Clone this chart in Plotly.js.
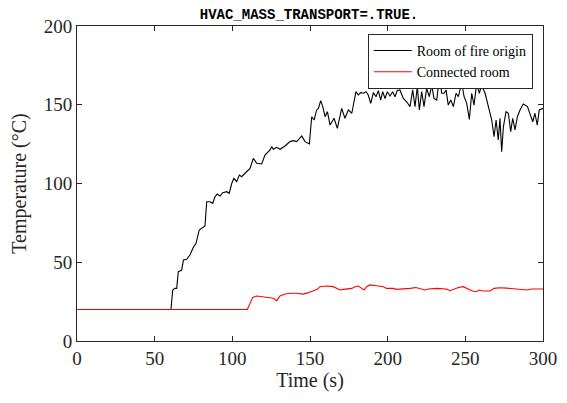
<!DOCTYPE html>
<html>
<head>
<meta charset="utf-8">
<script src="https://cdn.plot.ly/plotly-3.0.1.min.js"></script>
<style>html,body{margin:0;padding:0;background:#fff;}#chart{width:567px;height:403px;}</style>
</head>
<body>
<div id="chart"></div>
<script>
const fireTime = [0, 30, 60, 60.5, 61.6, 63, 64.2, 65.2, 67.4, 68.5, 70.6, 72.7, 74.9, 76.6, 78.7, 81.3, 82.4, 83.5, 85.6, 87.4, 88.8, 90.3, 92.1, 93.8, 96.4, 98, 99.6, 101, 102.8, 104.5, 106, 108.2, 110.3,
  111.4, 113.5, 115.7, 118.9, 121, 124.3, 125.3, 126.4, 128.6, 130.7, 133.9, 137.1, 139.3, 141.4, 144.7, 146.8, 149.6, 151.1, 152.6, 154.3, 155.4, 156.9, 158.2, 159.7, 161.2, 162.9, 165.5, 167.6, 170.4, 172.5, 174.7,
  176.9, 178.3, 179.6, 181.1, 182.6, 184.3, 186.1, 187.5, 189.1, 190.8, 192.5, 194, 195.5, 196.8, 198.3, 199.8, 201.5, 203.2, 204.7, 206.2, 207.9, 210.1, 212.2, 214.4, 216.1, 217.6, 219.1, 220.4, 221.9, 223.4, 225.1, 226.8, 228.4, 229.8, 231.6, 233.3, 234.8, 236.3,
  237.6, 239, 240.6, 242.3, 244, 245.5, 247.7, 249.2, 250.9, 252.6, 254.1, 255.6, 257.3, 259, 260.5, 262.7, 264.8, 267, 268.5, 269.8, 271.2, 272.3, 273.4, 274.5, 276.2, 277.7, 279.2, 280.5, 282, 283.5, 285.2, 287.3, 290, 291.6, 293.4, 294.8, 296.3, 297.6, 300];
const fireTemp = [20, 20, 20, 20.1, 32.4, 33.4, 33.4, 44, 45, 51.4, 51.9, 54.6, 59.5, 62, 70.5, 72.2, 73, 88.4, 88.4, 87.4, 91.6, 93.3, 92, 94.2, 94.8, 93.8, 100, 103.3, 101.2, 105.4, 104.3, 106.5, 108.6,
  109.6, 116, 112.8, 112.4, 118.1, 121.3, 123.4, 121.7, 123, 121.7, 123.8, 126.6, 127.2, 126.6, 130.2, 126.6, 125.1, 142.4, 140.3, 146.7, 147.7, 152.6, 148.8, 142.4, 145.6, 137.1, 141.4, 135, 147.7, 141.4, 146.7,
  144.6, 150.9, 158.3, 156.2, 157.7, 157.3, 158.3, 156.2, 150.9, 157.7, 155.1, 159, 153, 158.3, 154, 158.3, 155.6, 158.3, 155.1, 159, 159.4, 154, 151.9, 148.8, 159.4, 148.8, 161.5, 146.7, 158.3, 148.8, 160.4, 155.1, 162.5, 154, 153, 167.8, 157.3, 157.3,
  159.4, 149.8, 153, 148.8, 157.3, 155.1, 164, 155.1, 150.9, 140.7, 157.3, 149.8, 163.6, 157.3, 162.5, 157.3, 148.8, 140.3, 129.7, 140.3, 127.6, 141.4, 120.2, 136, 145.6, 144.6, 132.9, 141.4, 134, 142.4, 146.7, 150.5, 148.8, 144.6, 139.2, 144.6, 137.1, 146.7, 147.7];

const connTime = [0, 50, 100, 109.7, 111.4, 113.1, 115.7, 119.9, 124.3, 126.4, 128.6, 130.7, 133.9, 137.1, 141.4, 145.7, 148.9, 152.1, 154.7, 156.4, 160.7, 165, 167.2, 169.3, 171.5, 174.7, 176.9, 179, 181.1, 183.3, 184.8, 186.5, 188.6, 192.9, 197.2, 199.3, 203.6, 205.8,
  208.5, 211.2, 214.4, 218.2, 220.8, 224, 226.2, 231.6, 235.8, 238.4, 240.1, 242.7, 245.5, 248.7, 251.3, 254.1, 256.9, 259, 261.2, 263.8, 265.9, 268.5, 272.3, 276.6, 282, 287.3, 289.5, 292.7, 297, 300];
const connTemp = [20, 20, 20, 20.1, 23.9, 27.7, 28.6, 28.1, 27.7, 27.1, 25.6, 28.6, 29.8, 30.3, 30.3, 29.8, 30.7, 31.7, 32.8, 34.5, 34.9, 34.5, 33.4, 32.4, 32.8, 33, 33.4, 34.5, 34.9, 33.4, 32.4, 34.5, 35.6, 35.1, 34.5, 33.4, 33.4, 32.8,
  33, 32.8, 33.4, 34, 33.4, 32.4, 33, 33.4, 33.2, 32.8, 31.9, 32.8, 34, 34.5, 33.4, 31.9, 31.3, 32.4, 31.7, 31.9, 31.7, 33.4, 33.8, 33.6, 33.2, 32.8, 32.4, 33, 33, 33];

const seriesNames = ["Room of fire origin", "Connected room"];
const xTicks = [0, 50, 100, 150, 200, 250, 300];
const yTicks = [0, 50, 100, 150, 200];

const serif = "Liberation Serif, Times New Roman, serif";
const axisCommon = {
  showline: true, linecolor: "#262626", linewidth: 1, mirror: "ticks",
  ticks: "inside", ticklen: 5, tickwidth: 1, tickcolor: "#262626",
  showgrid: false, zeroline: false,
  tickfont: {family: serif, size: 19, color: "#262626"}
};

const data = [
  {x: fireTime, y: fireTemp, name: seriesNames[0], type: "scatter", mode: "lines",
   line: {color: "#000000", width: 1.1}},
  {x: connTime, y: connTemp, name: seriesNames[1], type: "scatter", mode: "lines",
   line: {color: "#ff0000", width: 1.1}}
];

const layout = {
  width: 567, height: 403,
  margin: {l: 77, r: 24, t: 26, b: 62},
  paper_bgcolor: "#fff", plot_bgcolor: "#fff",
  title: {text: "<b>HVAC_MASS_TRANSPORT=.TRUE.</b>", font: {family: "Liberation Mono, Courier New, monospace", size: 14, color: "#000"},
          x: 0.545, xanchor: "center", y: 0.965, yanchor: "middle"},
  xaxis: Object.assign({}, axisCommon, {range: [0, 300], tickvals: xTicks, ticktext: xTicks.map(String),
    title: {text: "Time (s)", font: {family: serif, size: 20, color: "#262626"}, standoff: 4}}),
  yaxis: Object.assign({}, axisCommon, {range: [0, 200], tickvals: yTicks, ticktext: yTicks.map(String),
    title: {text: "Temperature (°C)", font: {family: serif, size: 20, color: "#262626"}, standoff: 11}}),
  legend: {x: 0.978, y: 0.975, xanchor: "right", yanchor: "top", bgcolor: "#fff",
    bordercolor: "#262626", borderwidth: 1,
    font: {family: serif, size: 14, color: "#000"}, tracegroupgap: 0, itemwidth: 38},
  showlegend: true
};

Plotly.newPlot("chart", data, layout, {displayModeBar: false, staticPlot: true});
</script>
</body>
</html>
